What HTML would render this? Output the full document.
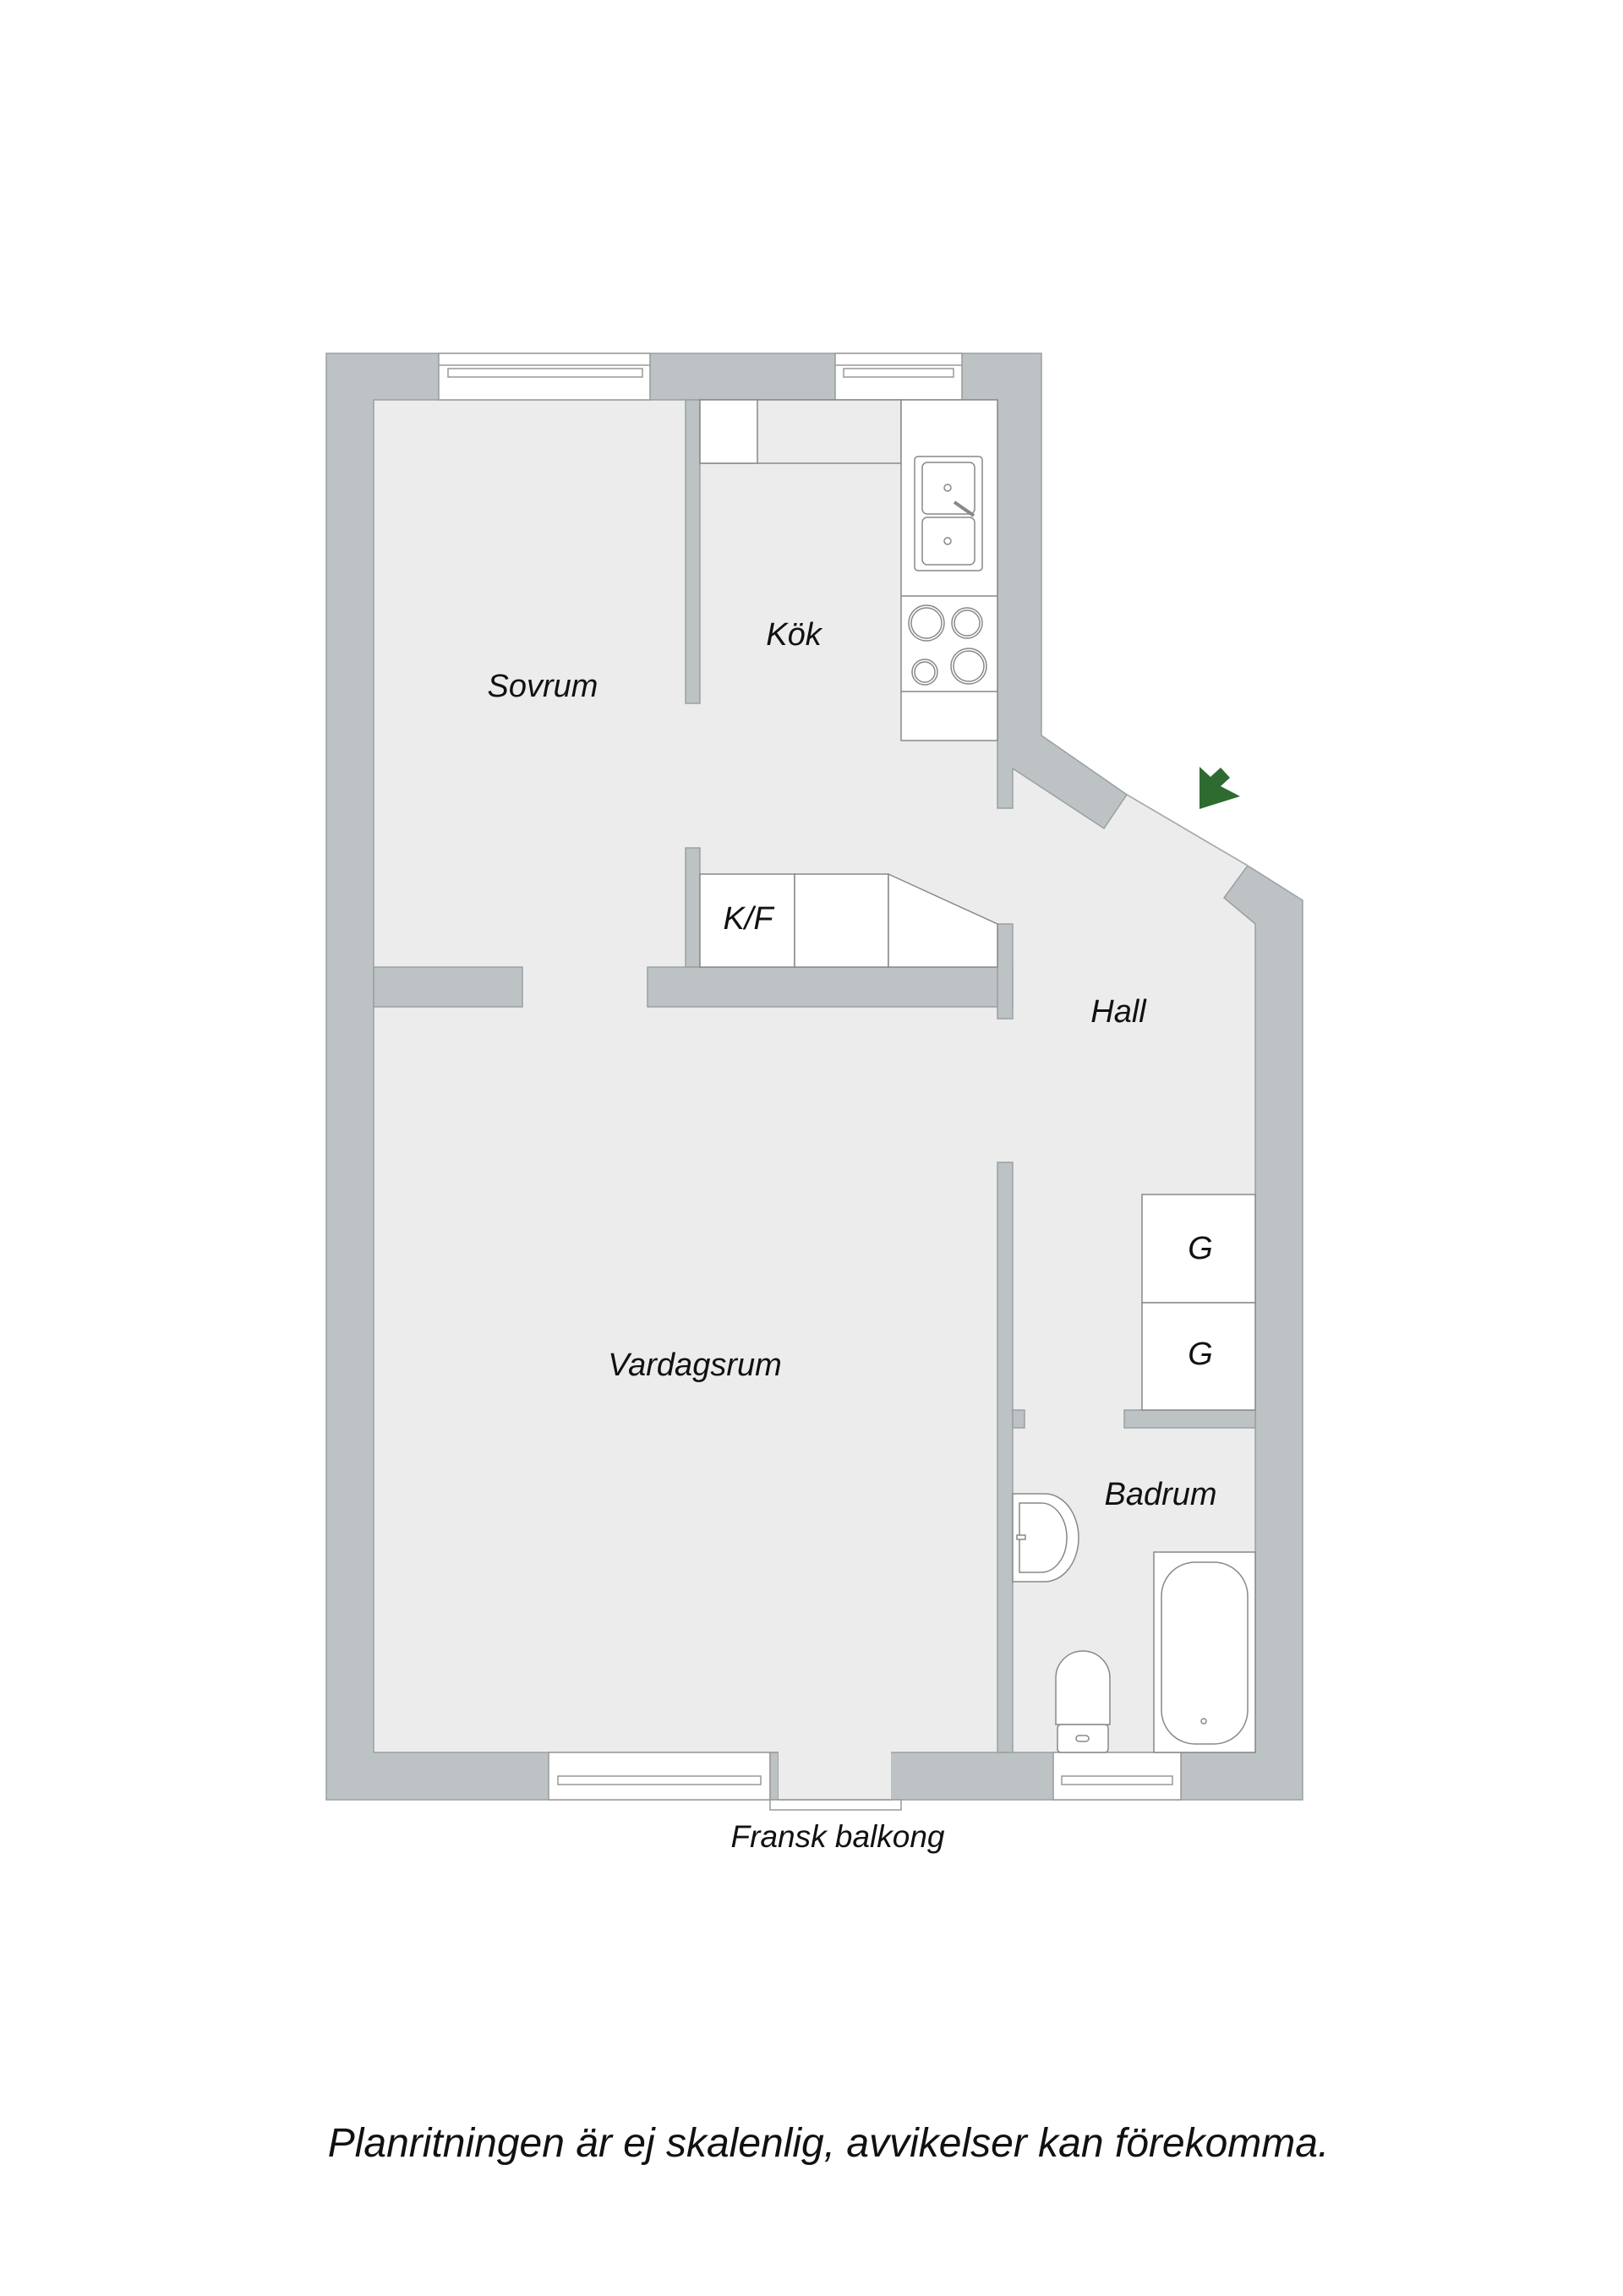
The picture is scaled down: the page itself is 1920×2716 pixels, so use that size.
<!DOCTYPE html>
<html><head><meta charset="utf-8"><style>
html,body{margin:0;padding:0;background:#fff;}
svg{display:block;}
text{font-family:"Liberation Sans",sans-serif;font-style:italic;fill:#111;}
</style></head><body>
<svg width="1920" height="2716" viewBox="0 0 1920 2716" xmlns="http://www.w3.org/2000/svg">
<g stroke-width="1.5">
<polygon points="386,418 1232,418 1232,870 1333,940 1476,1024 1541,1065 1541,2129 386,2129" fill="#bdc2c4" stroke="#9aa0a3"/>
<polygon points="442,473 1180,473 1180,956 1198,956 1198,909 1306,980 1333,940 1476,1024 1448,1062 1485,1093 1485,2073 442,2073" fill="#ececec" stroke="#9aa0a3"/>
<line x1="1333" y1="940" x2="1476" y2="1024" stroke="#aaa"/>
<!-- top windows -->
<rect x="519" y="418" width="250" height="55" fill="#fff" stroke="#999"/>
<line x1="519" y1="432" x2="769" y2="432" stroke="#999"/>
<rect x="530" y="436" width="230" height="10" fill="#fff" stroke="#999"/>
<rect x="988" y="418" width="150" height="55" fill="#fff" stroke="#999"/>
<line x1="988" y1="432" x2="1138" y2="432" stroke="#999"/>
<rect x="998" y="436" width="130" height="10" fill="#fff" stroke="#999"/>
<!-- bottom windows -->
<rect x="649" y="2073" width="262" height="56" fill="#fff" stroke="#999"/>
<rect x="660" y="2101" width="240" height="10" fill="#fff" stroke="#999"/>
<rect x="911" y="2073" width="10" height="56" fill="#bdc2c4" stroke="#999"/>
<rect x="921" y="2071" width="133" height="60" fill="#ececec" stroke="none"/>
<rect x="911" y="2129" width="155" height="12" fill="#fff" stroke="#999"/>
<line x1="921" y1="2129" x2="1054" y2="2129" stroke="#999"/>
<rect x="1246" y="2073" width="151" height="56" fill="#fff" stroke="#999"/>
<rect x="1256" y="2101" width="131" height="10" fill="#fff" stroke="#999"/>
<!-- interior walls -->
<rect x="811" y="473" width="17" height="359" fill="#bdc2c4" stroke="#9aa0a3"/>
<rect x="442" y="1144" width="176" height="47" fill="#bdc2c4" stroke="#9aa0a3"/>
<rect x="811" y="1003" width="17" height="141" fill="#bdc2c4" stroke="#9aa0a3"/>
<rect x="766" y="1144" width="432" height="47" fill="#bdc2c4" stroke="#9aa0a3"/>
<rect x="1180" y="1093" width="18" height="112" fill="#bdc2c4" stroke="#9aa0a3"/>
<rect x="1180" y="1375" width="18" height="698" fill="#bdc2c4" stroke="#9aa0a3"/>
<rect x="1198" y="1668" width="14" height="21" fill="#bdc2c4" stroke="#9aa0a3"/>
<rect x="1330" y="1668" width="155" height="21" fill="#bdc2c4" stroke="#9aa0a3"/>
<!-- kitchen -->
<rect x="828" y="473" width="238" height="75" fill="#ececec" stroke="#888"/>
<rect x="828" y="473" width="68" height="75" fill="#fff" stroke="#888"/>
<rect x="1066" y="473" width="114" height="403" fill="#fff" stroke="#888"/>
<line x1="1066" y1="705" x2="1180" y2="705" stroke="#888"/>
<line x1="1066" y1="818" x2="1180" y2="818" stroke="#888"/>
<rect x="1082" y="540" width="80" height="135" rx="4" fill="#fff" stroke="#888"/>
<rect x="1091" y="547" width="62" height="61" rx="6" fill="#fff" stroke="#888"/>
<rect x="1091" y="612" width="62" height="56" rx="6" fill="#fff" stroke="#888"/>
<circle cx="1121" cy="577" r="4" fill="none" stroke="#888"/>
<circle cx="1121" cy="640" r="4" fill="none" stroke="#888"/>
<line x1="1129" y1="594" x2="1152" y2="610" stroke="#888" stroke-width="4"/>
<g fill="none" stroke="#888">
<circle cx="1096" cy="737" r="21"/><circle cx="1096" cy="737" r="18"/>
<circle cx="1144" cy="737" r="18"/><circle cx="1144" cy="737" r="15"/>
<circle cx="1094" cy="795" r="15"/><circle cx="1094" cy="795" r="12"/>
<circle cx="1146" cy="788" r="21"/><circle cx="1146" cy="788" r="18"/>
</g>
<!-- K/F closets -->
<rect x="828" y="1034" width="112" height="110" fill="#fff" stroke="#888"/>
<rect x="940" y="1034" width="111" height="110" fill="#fff" stroke="#888"/>
<polygon points="1051,1034 1180,1093 1180,1144 1051,1144" fill="#fff" stroke="#888"/>
<!-- G closets -->
<rect x="1351" y="1413" width="134" height="128" fill="#fff" stroke="#888"/>
<rect x="1351" y="1541" width="134" height="127" fill="#fff" stroke="#888"/>
<!-- bathroom fixtures -->
<path d="M1198,1767 L1236,1767 A40,52 0 0 1 1236,1871 L1198,1871 Z" fill="#fff" stroke="#888"/>
<path d="M1206,1778 L1232,1778 A30,41 0 0 1 1232,1860 L1206,1860 Z" fill="none" stroke="#888"/>
<rect x="1203" y="1816" width="10" height="5" fill="#fff" stroke="#888"/>
<rect x="1365" y="1836" width="120" height="237" fill="#fff" stroke="#888"/>
<rect x="1374" y="1848" width="102" height="215" rx="40" fill="#fff" stroke="#888"/>
<circle cx="1424" cy="2036" r="3" fill="none" stroke="#888"/>
<path d="M1249,2040 L1249,1985 A32,32 0 0 1 1313,1985 L1313,2040 Z" fill="#fff" stroke="#888"/>
<rect x="1251" y="2040" width="60" height="33" rx="4" fill="#fff" stroke="#888"/>
<rect x="1273" y="2053" width="15" height="7" rx="3.5" fill="none" stroke="#888"/>
<!-- entrance arrow -->
<polygon points="1419,907 1432,919 1444,908 1455,920 1444,930 1467,942 1419,957" fill="#2e6b30"/>
</g>
<!-- labels -->
<text x="642" y="824" font-size="38" text-anchor="middle">Sovrum</text>
<text x="939" y="763" font-size="38" text-anchor="middle">Kök</text>
<text x="885" y="1099" font-size="38" text-anchor="middle">K/F</text>
<text x="1323" y="1209" font-size="38" text-anchor="middle">Hall</text>
<text x="822" y="1627" font-size="38" text-anchor="middle">Vardagsrum</text>
<text x="1420" y="1489" font-size="38" text-anchor="middle">G</text>
<text x="1420" y="1614" font-size="38" text-anchor="middle">G</text>
<text x="1373" y="1780" font-size="38" text-anchor="middle">Badrum</text>
<text x="991" y="2185" font-size="37" text-anchor="middle">Fransk balkong</text>
<text x="980" y="2551" font-size="48" text-anchor="middle">Planritningen är ej skalenlig, avvikelser kan förekomma.</text>
</svg>
</body></html>
